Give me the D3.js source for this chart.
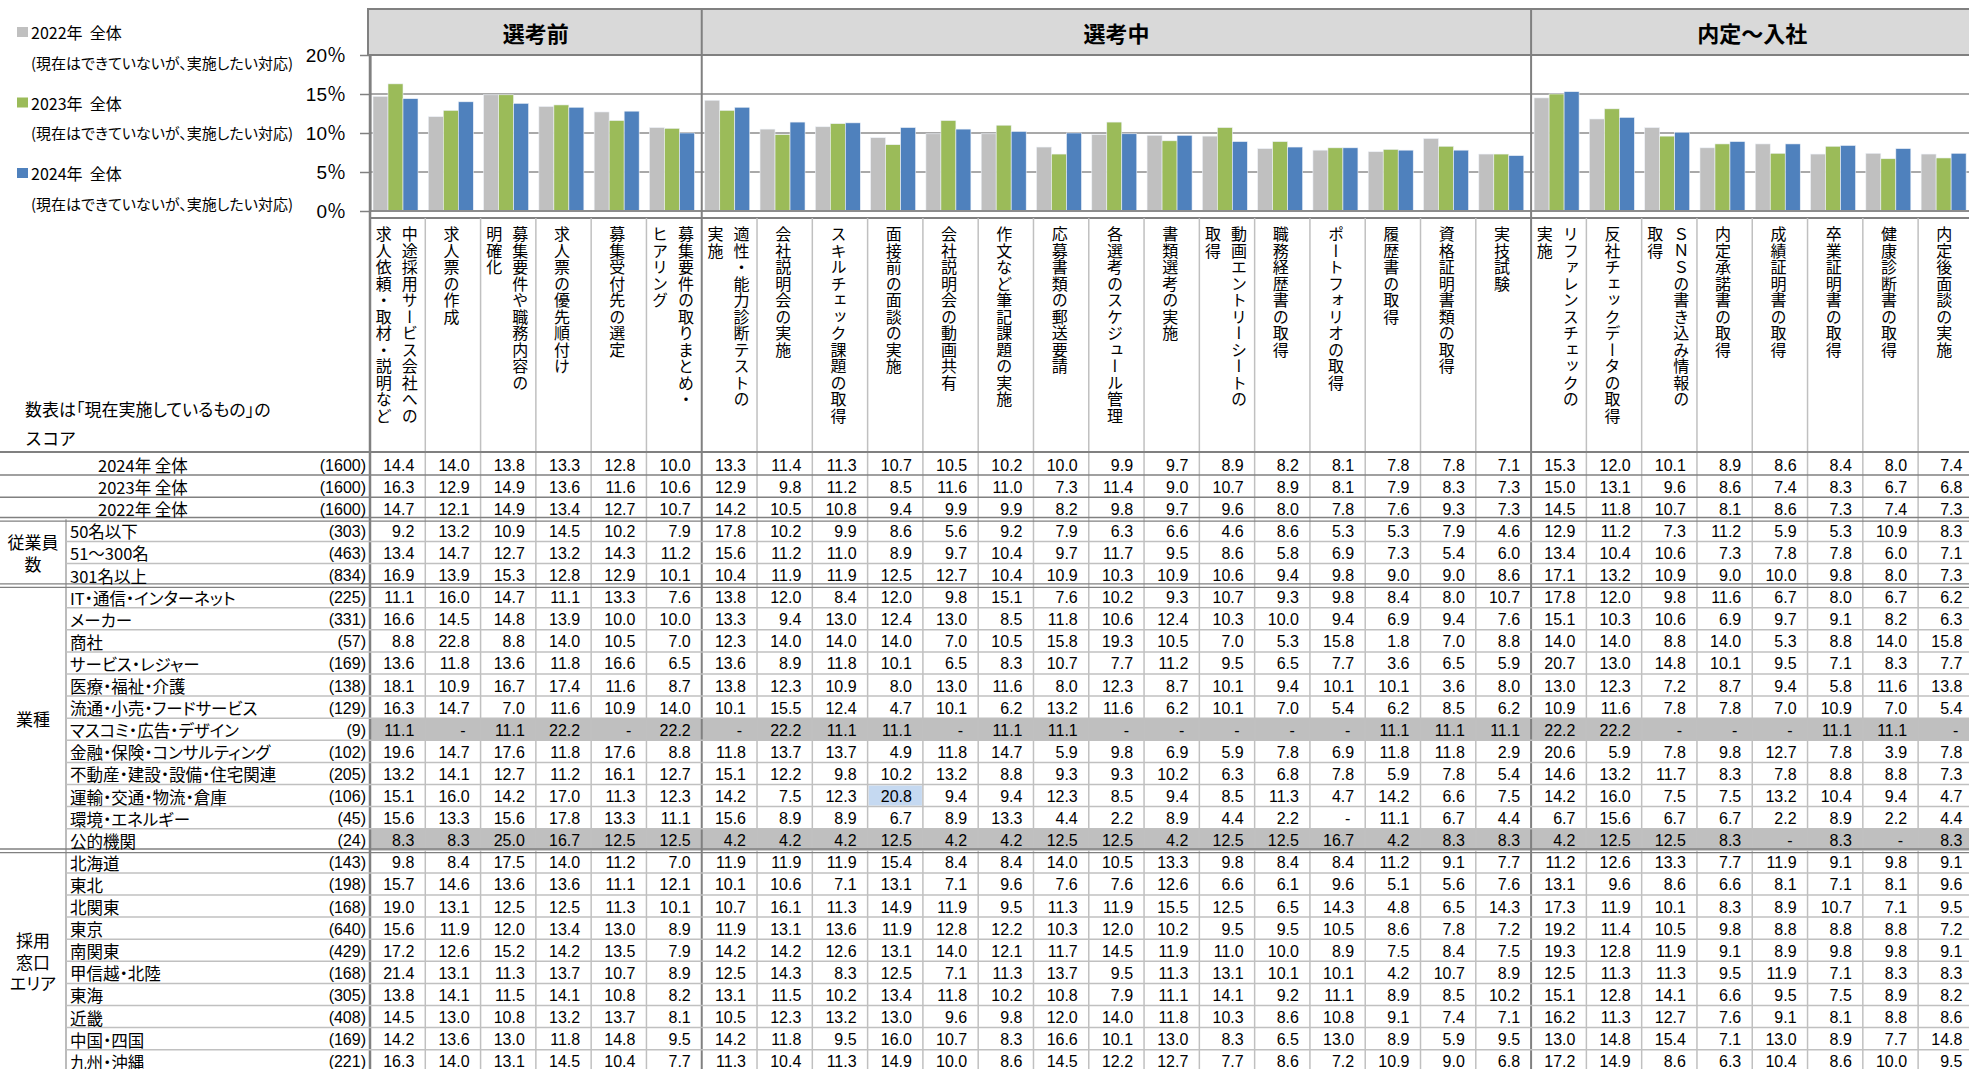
<!DOCTYPE html>
<html>
<head>
<meta charset="utf-8">
<script src="https://cdn.jsdelivr.net/npm/d3@7"></script>
<style>
body { margin: 0; background: #fff; }
text { font-family: "Liberation Sans", Arial, "Noto Sans CJK JP", sans-serif; fill: #000; }
.jp { font-family: "Noto Sans CJK JP", sans-serif; }
.palt { font-feature-settings: "palt"; }
</style>
</head>
<body>
<script>
var width = 1969,
    height = 1069;

// stages (header band) and their number of columns
var stageNames = ['選考前', '選考中', '内定～入社'];
var stageSizes = [6, 15, 8];

// category labels, "|" = next vertical line (to the left)
var categories = [
    '中途採用サービス会社への|求人依頼・取材・説明など',
    '求人票の作成',
    '募集要件や職務内容の|明確化',
    '求人票の優先順付け',
    '募集受付先の選定',
    '募集要件の取りまとめ・|ヒアリング',
    '適性・能力診断テストの|実施',
    '会社説明会の実施',
    'スキルチェック課題の取得',
    '面接前の面談の実施',
    '会社説明会の動画共有',
    '作文など筆記課題の実施',
    '応募書類の郵送要請',
    '各選考のスケジュール管理',
    '書類選考の実施',
    '動画エントリーシートの|取得',
    '職務経歴書の取得',
    'ポートフォリオの取得',
    '履歴書の取得',
    '資格証明書類の取得',
    '実技試験',
    'リファレンスチェックの|実施',
    '反社チェックデータの取得',
    'ＳＮＳの書き込み情報の|取得',
    '内定承諾書の取得',
    '成績証明書の取得',
    '卒業証明書の取得',
    '健康診断書の取得',
    '内定後面談の実施'
];

var total2024 = [14.4,14.0,13.8,13.3,12.8,10.0, 13.3,11.4,11.3,10.7,10.5,10.2,10.0,9.9,9.7,8.9,8.2,8.1,7.8,7.8,7.1, 15.3,12.0,10.1,8.9,8.6,8.4,8.0,7.4];
var total2023 = [16.3,12.9,14.9,13.6,11.6,10.6, 12.9,9.8,11.2,8.5,11.6,11.0,7.3,11.4,9.0,10.7,8.9,8.1,7.9,8.3,7.3, 15.0,13.1,9.6,8.6,7.4,8.3,6.7,6.8];
var total2022 = [14.7,12.1,14.9,13.4,12.7,10.7, 14.2,10.5,10.8,9.4,9.9,9.9,8.2,9.8,9.7,9.6,8.0,7.8,7.6,9.3,7.3, 14.5,11.8,10.7,8.1,8.6,7.3,7.4,7.3];

var seriesNames = ['2022年  全体', '2023年  全体', '2024年  全体'];
var seriesNote = '(現在はできていないが、実施したい対応)';
var seriesColors = ['#c0c0c0', '#9bbb59', '#4f81bd'];
var seriesValues = [total2022, total2023, total2024];

var yTicks = [0, 5, 10, 15, 20];

var rowLabels = ['2024年 全体','2023年 全体','2022年 全体',
    '50名以下','51～300名','301名以上',
    'IT・通信・インターネット','メーカー','商社','サービス・レジャー','医療・福祉・介護','流通・小売・フードサービス',
    'マスコミ・広告・デザイン','金融・保険・コンサルティング','不動産・建設・設備・住宅関連','運輸・交通・物流・倉庫','環境・エネルギー','公的機関',
    '北海道','東北','北関東','東京','南関東','甲信越・北陸','東海','近畿','中国・四国','九州・沖縄'];
var rowN = [1600,1600,1600, 303,463,834, 225,331,57,169,138,129,9,102,205,106,45,24, 143,198,168,640,429,168,305,408,169,221];

var groupLabels = ['従業員|数', '業種', '採用|窓口|エリア'];
var groupRows = [[3, 5], [6, 17], [18, 27]];

var _ = null;
var rowValues = [
    total2024, total2023, total2022,
    [9.2,13.2,10.9,14.5,10.2,7.9, 17.8,10.2,9.9,8.6,5.6,9.2,7.9,6.3,6.6,4.6,8.6,5.3,5.3,7.9,4.6, 12.9,11.2,7.3,11.2,5.9,5.3,10.9,8.3],
    [13.4,14.7,12.7,13.2,14.3,11.2, 15.6,11.2,11.0,8.9,9.7,10.4,9.7,11.7,9.5,8.6,5.8,6.9,7.3,5.4,6.0, 13.4,10.4,10.6,7.3,7.8,7.8,6.0,7.1],
    [16.9,13.9,15.3,12.8,12.9,10.1, 10.4,11.9,11.9,12.5,12.7,10.4,10.9,10.3,10.9,10.6,9.4,9.8,9.0,9.0,8.6, 17.1,13.2,10.9,9.0,10.0,9.8,8.0,7.3],
    [11.1,16.0,14.7,11.1,13.3,7.6, 13.8,12.0,8.4,12.0,9.8,15.1,7.6,10.2,9.3,10.7,9.3,9.8,8.4,8.0,10.7, 17.8,12.0,9.8,11.6,6.7,8.0,6.7,6.2],
    [16.6,14.5,14.8,13.9,10.0,10.0, 13.3,9.4,13.0,12.4,13.0,8.5,11.8,10.6,12.4,10.3,10.0,9.4,6.9,9.4,7.6, 15.1,10.3,10.6,6.9,9.7,9.1,8.2,6.3],
    [8.8,22.8,8.8,14.0,10.5,7.0, 12.3,14.0,14.0,14.0,7.0,10.5,15.8,19.3,10.5,7.0,5.3,15.8,1.8,7.0,8.8, 14.0,14.0,8.8,14.0,5.3,8.8,14.0,15.8],
    [13.6,11.8,13.6,11.8,16.6,6.5, 13.6,8.9,11.8,10.1,6.5,8.3,10.7,7.7,11.2,9.5,6.5,7.7,3.6,6.5,5.9, 20.7,13.0,14.8,10.1,9.5,7.1,8.3,7.7],
    [18.1,10.9,16.7,17.4,11.6,8.7, 13.8,12.3,10.9,8.0,13.0,11.6,8.0,12.3,8.7,10.1,9.4,10.1,10.1,3.6,8.0, 13.0,12.3,7.2,8.7,9.4,5.8,11.6,13.8],
    [16.3,14.7,7.0,11.6,10.9,14.0, 10.1,15.5,12.4,4.7,10.1,6.2,13.2,11.6,6.2,10.1,7.0,5.4,6.2,8.5,6.2, 10.9,11.6,7.8,7.8,7.0,10.9,7.0,5.4],
    [11.1,_,11.1,22.2,_,22.2, _,22.2,11.1,11.1,_,11.1,11.1,_,_,_,_,_,11.1,11.1,11.1, 22.2,22.2,_,_,_,11.1,11.1,_],
    [19.6,14.7,17.6,11.8,17.6,8.8, 11.8,13.7,13.7,4.9,11.8,14.7,5.9,9.8,6.9,5.9,7.8,6.9,11.8,11.8,2.9, 20.6,5.9,7.8,9.8,12.7,7.8,3.9,7.8],
    [13.2,14.1,12.7,11.2,16.1,12.7, 15.1,12.2,9.8,10.2,13.2,8.8,9.3,9.3,10.2,6.3,6.8,7.8,5.9,7.8,5.4, 14.6,13.2,11.7,8.3,7.8,8.8,8.8,7.3],
    [15.1,16.0,14.2,17.0,11.3,12.3, 14.2,7.5,12.3,20.8,9.4,9.4,12.3,8.5,9.4,8.5,11.3,4.7,14.2,6.6,7.5, 14.2,16.0,7.5,7.5,13.2,10.4,9.4,4.7],
    [15.6,13.3,15.6,17.8,13.3,11.1, 15.6,8.9,8.9,6.7,8.9,13.3,4.4,2.2,8.9,4.4,2.2,_,11.1,6.7,4.4, 6.7,15.6,6.7,6.7,2.2,8.9,2.2,4.4],
    [8.3,8.3,25.0,16.7,12.5,12.5, 4.2,4.2,4.2,12.5,4.2,4.2,12.5,12.5,4.2,12.5,12.5,16.7,4.2,8.3,8.3, 4.2,12.5,12.5,8.3,_,8.3,_,8.3],
    [9.8,8.4,17.5,14.0,11.2,7.0, 11.9,11.9,11.9,15.4,8.4,8.4,14.0,10.5,13.3,9.8,8.4,8.4,11.2,9.1,7.7, 11.2,12.6,13.3,7.7,11.9,9.1,9.8,9.1],
    [15.7,14.6,13.6,13.6,11.1,12.1, 10.1,10.6,7.1,13.1,7.1,9.6,7.6,7.6,12.6,6.6,6.1,9.6,5.1,5.6,7.6, 13.1,9.6,8.6,6.6,8.1,7.1,8.1,9.6],
    [19.0,13.1,12.5,12.5,11.3,10.1, 10.7,16.1,11.3,14.9,11.9,9.5,11.3,11.9,15.5,12.5,6.5,14.3,4.8,6.5,14.3, 17.3,11.9,10.1,8.3,8.9,10.7,7.1,9.5],
    [15.6,11.9,12.0,13.4,13.0,8.9, 11.9,13.1,13.6,11.9,12.8,12.2,10.3,12.0,10.2,9.5,9.5,10.5,8.6,7.8,7.2, 19.2,11.4,10.5,9.8,8.8,8.8,8.8,7.2],
    [17.2,12.6,15.2,14.2,13.5,7.9, 14.2,14.2,12.6,13.1,14.0,12.1,11.7,14.5,11.9,11.0,10.0,8.9,7.5,8.4,7.5, 19.3,12.8,11.9,9.1,8.9,9.8,9.8,9.1],
    [21.4,13.1,11.3,13.7,10.7,8.9, 12.5,14.3,8.3,12.5,7.1,11.3,13.7,9.5,11.3,13.1,10.1,10.1,4.2,10.7,8.9, 12.5,11.3,11.3,9.5,11.9,7.1,8.3,8.3],
    [13.8,14.1,11.5,14.1,10.8,8.2, 13.1,11.5,10.2,13.4,11.8,10.2,10.8,7.9,11.1,14.1,9.2,11.1,8.9,8.5,10.2, 15.1,12.8,14.1,6.6,9.5,7.5,8.9,8.2],
    [14.5,13.0,10.8,13.2,13.7,8.1, 10.5,12.3,13.2,13.0,9.6,9.8,12.0,14.0,11.8,10.3,8.6,10.8,9.1,7.4,7.1, 16.2,11.3,12.7,7.6,9.1,8.1,8.8,8.6],
    [14.2,13.6,13.0,11.8,14.8,9.5, 14.2,11.8,9.5,16.0,10.7,8.3,16.6,10.1,13.0,8.3,6.5,13.0,8.9,5.9,9.5, 13.0,14.8,15.4,7.1,13.0,8.9,7.7,14.8],
    [16.3,14.0,13.1,14.5,10.4,7.7, 11.3,10.4,11.3,14.9,10.0,8.6,14.5,12.2,12.7,7.7,8.6,7.2,10.9,9.0,6.8, 17.2,14.9,8.6,6.3,10.4,8.6,10.0,9.5]
];

var selectedCell = [15, 9];   // 運輸・交通・物流・倉庫 / 面接前の面談の実施

var svg = d3.select('body').append('svg')
    .attr('width', width)
    .attr('height', height);

var colLeft = 370,
    colW = 55.29,
    colRight = colLeft + colW * categories.length,
    tableTop = 453,
    rowH = 22.1,
    dark = '#808080',
    light = '#c0c0c0';

var x = d3.scaleBand()
    .domain(d3.range(categories.length))
    .range([colLeft, colRight]);

var xs = d3.scaleBand()
    .domain(d3.range(seriesNames.length))
    .range([3, 48]);

var y = d3.scaleLinear()
    .domain([0, 20])
    .range([211, 55]);

var rowY = d3.scaleLinear()
    .domain([0, 1])
    .range([tableTop, tableTop + rowH]);

// stage boundaries (column index where each stage starts)
var stageStart = [];
var acc = 0;
stageSizes.forEach(function (n) { stageStart.push(acc); acc += n; });

// header band
svg.append('rect')
    .attr('x', colLeft - 2)
    .attr('y', 9)
    .attr('width', width - colLeft + 4)
    .attr('height', y(20) - 9)
    .attr('fill', '#d9d9d9')
    .attr('stroke', dark)
    .attr('stroke-width', 2);

stageNames.forEach(function (s, i) {
    var x0 = x(stageStart[i]),
        x1 = x0 + stageSizes[i] * colW;
    svg.append('text')
        .attr('class', 'jp')
        .attr('x', (x0 + x1) / 2)
        .attr('y', 32)
        .attr('text-anchor', 'middle')
        .attr('dominant-baseline', 'central')
        .attr('font-size', 22)
        .attr('font-weight', 'bold')
        .text(s);
});

// gridlines
[5, 10, 15].forEach(function (t) {
    svg.append('line')
        .attr('x1', colLeft).attr('x2', width)
        .attr('y1', y(t)).attr('y2', y(t))
        .attr('stroke', '#8c8c8c')
        .attr('stroke-width', 1.5);
});

// bars
seriesValues.forEach(function (vals, k) {
    svg.append('g').selectAll('rect')
        .data(vals)
        .enter().append('rect')
        .attr('x', function (d, j) { return x(j) + xs(k); })
        .attr('y', function (d) { return y(d); })
        .attr('width', xs.bandwidth())
        .attr('height', function (d) { return y(0) - y(d); })
        .attr('fill', seriesColors[k])
        .attr('stroke', '#eef2f8')
        .attr('stroke-width', 0.6);
});

// baseline and bottom of chart
svg.append('line')
    .attr('x1', colLeft).attr('x2', width)
    .attr('y1', y(0)).attr('y2', y(0))
    .attr('stroke', '#8c8c8c').attr('stroke-width', 2);
svg.append('line')
    .attr('x1', colLeft).attr('x2', width)
    .attr('y1', 218).attr('y2', 218)
    .attr('stroke', dark).attr('stroke-width', 2);

// y axis
var yAxis = svg.append('g')
    .attr('transform', 'translate(' + colLeft + ',0)')
    .call(d3.axisLeft(y)
        .tickValues(yTicks)
        .tickSize(10)
        .tickSizeOuter(0)
        .tickPadding(14)
        .tickFormat(function (d) { return d + '％'; }));
yAxis.select('.domain').attr('stroke', dark).attr('stroke-width', 2);
yAxis.selectAll('.tick line').attr('stroke', dark).attr('stroke-width', 1.5);
yAxis.selectAll('.tick text')
    .attr('font-size', 19)
    .attr('fill', '#111')
    .style('font-family', '"Liberation Sans", Arial, "Noto Sans CJK JP", sans-serif');

// legend
seriesNames.forEach(function (s, k) {
    var cy = 32 + k * 70.5;
    svg.append('rect')
        .attr('x', 17).attr('y', cy - 5)
        .attr('width', 11).attr('height', 10)
        .attr('fill', seriesColors[k]);
    svg.append('text')
        .attr('class', 'jp')
        .attr('x', 31).attr('y', cy)
        .attr('dominant-baseline', 'central')
        .attr('font-size', 16)
        .style('white-space', 'pre')
        .text(s);
    svg.append('text')
        .attr('class', 'jp palt')
        .attr('x', 31).attr('y', cy + 30)
        .attr('dominant-baseline', 'central')
        .attr('font-size', 15)
        .text(seriesNote);
});

// category labels (vertical)
categories.forEach(function (c, j) {
    var lines = c.split('|');
    var cx = x(j) + colW / 2;
    var xsPos = lines.length === 1 ? [cx - 1.5] : [cx + 12, cx - 14];
    lines.forEach(function (l, i) {
        svg.append('text')
            .attr('class', 'jp')
            .attr('x', xsPos[i])
            .attr('y', 226)
            .attr('font-size', 16)
            .style('writing-mode', 'vertical-rl')
            .style('letter-spacing', '0.5px')
            .text(l);
    });
});

// table note
svg.append('text').attr('class', 'jp palt')
    .attr('x', 25).attr('y', 408)
    .attr('dominant-baseline', 'central')
    .attr('font-size', 17)
    .text('数表は「現在実施しているもの」の');
svg.append('text').attr('class', 'jp')
    .attr('x', 25).attr('y', 437)
    .attr('dominant-baseline', 'central')
    .attr('font-size', 17)
    .text('スコア');

// shaded rows (small samples) and selected cell
rowN.forEach(function (n, i) {
    if (n < 30) {
        svg.append('rect')
            .attr('x', colLeft).attr('y', rowY(i))
            .attr('width', width - colLeft).attr('height', rowH)
            .attr('fill', '#bfbfbf');
    }
});
svg.append('rect')
    .attr('x', x(selectedCell[1]) + 1).attr('y', rowY(selectedCell[0]) + 1)
    .attr('width', colW - 2).attr('height', rowH - 2)
    .attr('fill', '#c5d9f1');

// column lines
d3.range(1, categories.length).forEach(function (j) {
    var isStage = stageStart.indexOf(j) >= 0;
    svg.append('line')
        .attr('x1', x(j)).attr('x2', x(j))
        .attr('y1', isStage ? 9 : 218).attr('y2', height)
        .attr('stroke', isStage ? dark : light)
        .attr('stroke-width', isStage ? 2 : 1.5);
});
svg.append('line')
    .attr('x1', colLeft).attr('x2', colLeft)
    .attr('y1', 55).attr('y2', height)
    .attr('stroke', dark).attr('stroke-width', 2.5);
svg.append('line')
    .attr('x1', 66).attr('x2', 66)
    .attr('y1', rowY(3)).attr('y2', height)
    .attr('stroke', '#a6a6a6').attr('stroke-width', 1.5);

// row lines
svg.append('line')
    .attr('x1', 0).attr('x2', width)
    .attr('y1', tableTop - 1).attr('y2', tableTop - 1)
    .attr('stroke', dark).attr('stroke-width', 2);

var groupEnds = groupRows.map(function (g) { return g[1]; });
d3.range(0, rowLabels.length - 1).forEach(function (i) {
    var yb = rowY(i + 1);
    if (i === 2 || groupEnds.indexOf(i) >= 0) {
        [-1.8, 1.8].forEach(function (o) {
            svg.append('line')
                .attr('x1', 0).attr('x2', width)
                .attr('y1', yb + o).attr('y2', yb + o)
                .attr('stroke', dark).attr('stroke-width', 1.3);
        });
    } else if (i < 2) {
        svg.append('line')
            .attr('x1', 0).attr('x2', width)
            .attr('y1', yb).attr('y2', yb)
            .attr('stroke', dark).attr('stroke-width', 1.5);
    } else {
        svg.append('line')
            .attr('x1', 66).attr('x2', width)
            .attr('y1', yb).attr('y2', yb)
            .attr('stroke', light).attr('stroke-width', 1.5);
    }
});

// group labels
groupLabels.forEach(function (g, i) {
    var lines = g.split('|');
    var cy = (rowY(groupRows[i][0]) + rowY(groupRows[i][1] + 1)) / 2;
    lines.forEach(function (l, k) {
        svg.append('text').attr('class', 'jp palt')
            .attr('x', 33)
            .attr('y', cy + (k - (lines.length - 1) / 2) * 21.5)
            .attr('text-anchor', 'middle')
            .attr('dominant-baseline', 'central')
            .attr('font-size', 17)
            .text(l);
    });
});

// row labels, n and values
var fmt = d3.format('.1f');
rowLabels.forEach(function (lab, i) {
    var cy = rowY(i) + rowH / 2 + 1;
    svg.append('text').attr('class', 'jp palt')
        .attr('x', i < 3 ? 98 : 70)
        .attr('y', cy)
        .attr('dominant-baseline', 'central')
        .attr('font-size', 16.5)
        .text(lab);
    svg.append('text')
        .attr('x', 366)
        .attr('y', cy)
        .attr('text-anchor', 'end')
        .attr('dominant-baseline', 'central')
        .attr('font-size', 16)
        .text('(' + rowN[i] + ')');
    svg.append('g').selectAll('text')
        .data(rowValues[i])
        .enter().append('text')
        .attr('x', function (d, j) { return x(j) + colW - (d === null ? 15 : 11); })
        .attr('y', cy)
        .attr('text-anchor', 'end')
        .attr('dominant-baseline', 'central')
        .attr('font-size', 16)
        .text(function (d) { return d === null ? '-' : fmt(d); });
});
</script>
</body>
</html>
